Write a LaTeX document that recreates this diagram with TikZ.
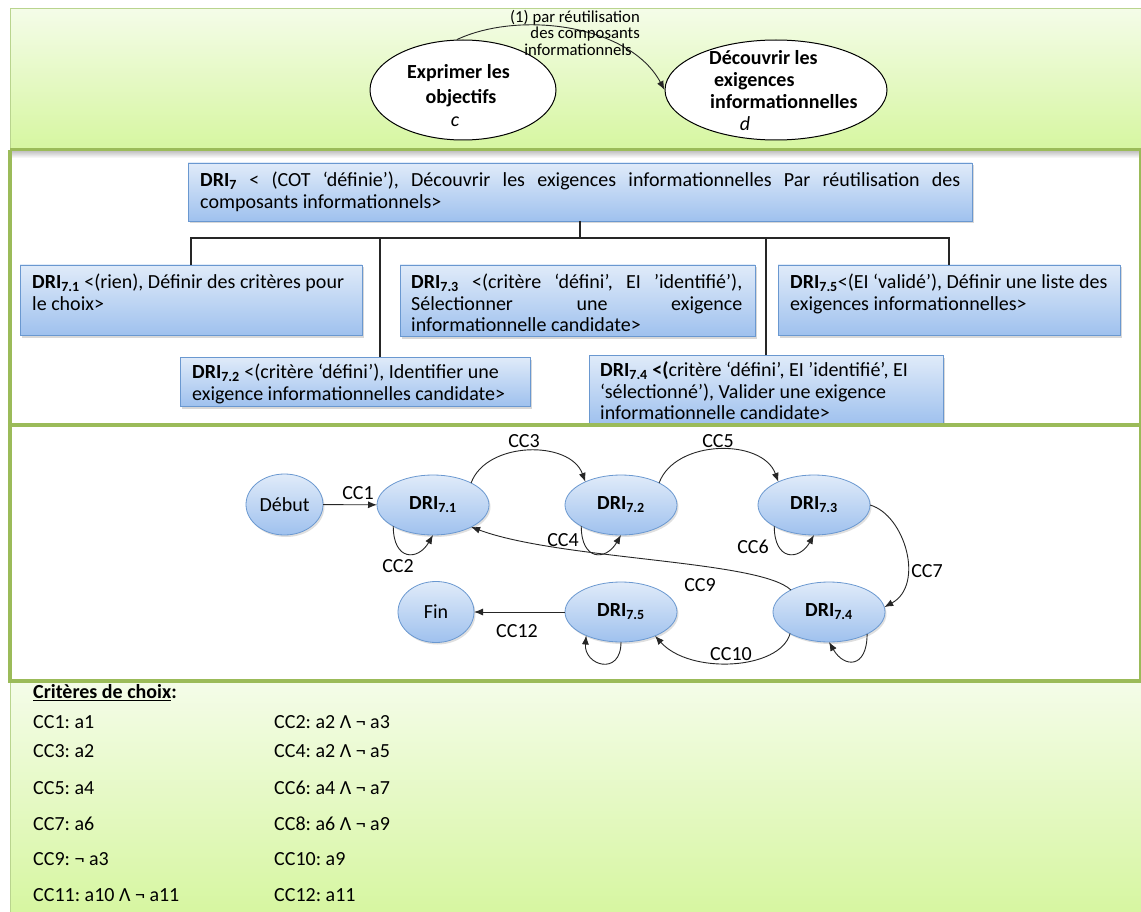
\documentclass[tikz,border=0pt]{standalone}
\usepackage{fontspec}
\setmainfont{Carlito}
\frenchspacing
\usetikzlibrary{shapes.geometric,arrows.meta,shadows}
\definecolor{grn}{HTML}{9BBB59}
\definecolor{grnlight}{HTML}{B9D48E}
\definecolor{grntop}{HTML}{F4FCE8}
\definecolor{grnbot}{HTML}{D6F6A0}
\definecolor{bxtop}{HTML}{E0EBF9}
\definecolor{bxbot}{HTML}{9FC1EE}
\definecolor{bxline}{HTML}{6A98D0}
\definecolor{edgec}{HTML}{262626}
\begin{document}
\begin{tikzpicture}[x=1pt,y=1pt,
  bx/.style={draw=bxline, line width=0.8pt, top color=bxtop, bottom color=bxbot,
    anchor=north west, inner sep=0pt, outer sep=0pt,
    drop shadow={shadow xshift=2pt, shadow yshift=-2.5pt, opacity=0.3}},
  bxtext/.style={anchor=north west, inner sep=0pt, align=left,
    font=\fontsize{20}{21.5}\selectfont},
  st/.style={ellipse, draw=bxline, line width=0.8pt, top color=bxtop, bottom color=bxbot,
    minimum width=112pt, minimum height=60pt, inner sep=0pt, outer sep=0pt,
    font=\fontsize{20}{24}\selectfont\bfseries,
    drop shadow={shadow xshift=1.5pt, shadow yshift=-2pt, opacity=0.25}},
  lbl/.style={font=\fontsize{20}{24}\selectfont, inner sep=0pt},
  crit/.style={anchor=base west, font=\fontsize{20}{24}\selectfont, inner sep=0pt},
  arr/.style={draw=edgec, line width=0.9pt, -{Latex[length=9pt,width=7pt]}},
  tree/.style={draw=edgec, line width=1.1pt},
  big/.style={ellipse, draw=black, line width=1pt, fill=white, minimum height=100pt, inner sep=0pt},
  bigtxt/.style={font=\fontsize{20}{24}\selectfont\bfseries, inner sep=0pt},
  toplbl/.style={anchor=base east, font=\fontsize{16.7}{16.5}\selectfont, inner sep=0pt}]
\useasboundingbox (0,0) rectangle (1141,-912);
\fill[white] (0,0) rectangle (1141,-912);
\clip (0,0) rectangle (1141,-912);

% ---------- panels ----------
\shade[top color=grntop, bottom color=grnbot] (10,-9) rectangle (1150,-150);
\draw[grnlight, line width=1pt] (1150,-9) -- (10,-9) -- (10,-150);
\shade[top color=black!22, bottom color=white] (12,-151.5) rectangle (1141,-158);
\shade[top color=grntop, bottom color=grnbot] (10,-683) rectangle (1150,-915);
\draw[grnlight, line width=1pt] (10,-683) -- (10,-915);

% ---------- top: process ----------
\node[big, minimum width=186pt] (c) at (463,-90) {};
\node[big, minimum width=222pt] (d) at (776,-90) {};
\node[bigtxt, anchor=base] (c1) at (458.5,-78.5) {Exprimer les};
\node[bigtxt, anchor=base] (c2) at (461,-103.5) {objectifs};
\node[bigtxt, anchor=base, font=\fontsize{20}{24}\selectfont\itshape] (c3) at (455,-127) {c};
\node[bigtxt, anchor=base west] (d1) at (709,-64.5) {Découvrir les};
\node[bigtxt, anchor=base west] (d2) at (714,-86.5) {exigences};
\node[bigtxt, anchor=base west] (d3) at (710,-108.5) {informationnelles};
\node[bigtxt, anchor=base, font=\fontsize{20}{24}\selectfont\itshape] (d4) at (745,-131) {d};
\draw[arr] (c.97) .. controls (520,-10) and (630,-25) .. (d.west);
\node[toplbl] (p1) at (640,-22.5) {(1) par réutilisation};
\node[toplbl] (p2) at (640,-39) {des composants};
\node[toplbl] (p3) at (632,-56) {informationnels};

% ---------- middle: decomposition ----------
\node[bx, minimum width=784pt, minimum height=58pt] (b7) at (188,-163) {};
\node[bx, minimum width=342pt, minimum height=70pt] (b71) at (20,-265) {};
\node[bx, minimum width=355pt, minimum height=71pt] (b73) at (400,-265) {};
\node[bx, minimum width=342pt, minimum height=70pt] (b75) at (778,-265) {};
\node[bx, minimum width=350pt, minimum height=49pt] (b72) at (180,-357) {};
\node[bx, minimum width=354pt, minimum height=69pt] (b74) at (589,-355) {};

\coordinate (bus) at ([yshift=-17pt]b7.south);
\draw[tree] (b7.south) -- (bus);
\draw[tree] (b71.north) |- (bus) -| (b75.north);
\draw[tree] (bus) -| (b74.north);
\draw[tree] (bus) -| ([xshift=25pt]b72.north);

\node[bxtext] (t7) at (200,-169.5) {\makebox[760pt][s]{\rule{0pt}{17pt}\textbf{DRI\textsubscript{7}} < (COT ‘définie’), Découvrir les exigences informationnelles Par réutilisation des}\\composants informationnels>};
\node[bxtext] (t71) at (32,-271.5) {\rule{0pt}{17pt}\textbf{DRI\textsubscript{7.1}} <(rien), Définir des critères pour\\le choix>};
\node[bxtext] (t73) at (411,-271.5) {\makebox[331pt][s]{\rule{0pt}{17pt}\textbf{DRI\textsubscript{7.3}} <(critère ‘défini’, EI ’identifié’),}\\\makebox[331pt][s]{Sélectionner une exigence}\\informationnelle candidate>};
\node[bxtext] (t75) at (790,-271.5) {\rule{0pt}{17pt}\textbf{DRI\textsubscript{7.5}}<(EI ‘validé’), Définir une liste des\\exigences informationnelles>};
\node[bxtext] (t72) at (192,-361.5) {\rule{0pt}{17pt}\textbf{DRI\textsubscript{7.2}} <(critère ‘défini’), Identifier une\\exigence informationnelles candidate>};
\node[bxtext] (t74) at (600,-359.5) {\rule{0pt}{17pt}\textbf{DRI\textsubscript{7.4} <(}critère ‘défini’, EI ’identifié’, EI\\‘sélectionné’), Valider une exigence\\informationnelle candidate>};

% ---------- state diagram ----------
\node[st, minimum width=77pt, minimum height=61pt, font=\fontsize{20}{24}\selectfont] (deb) at (284.5,-504.5) {Début};
\node[st] (s71) at (433,-505) {DRI\textsubscript{7.1}};
\node[st] (s72) at (621,-505) {DRI\textsubscript{7.2}};
\node[st] (s73) at (814,-505) {DRI\textsubscript{7.3}};
\node[st] (s74) at (829,-612) {DRI\textsubscript{7.4}};
\node[st] (s75) at (621,-612) {DRI\textsubscript{7.5}};
\node[st, minimum width=76pt, minimum height=61pt, font=\fontsize{20}{24}\selectfont] (fin) at (436,-612) {Fin};

\draw[arr] (deb) -- (s71);
\draw[arr] (s71.30) to[out=70,in=110] (s72.147);
\draw[arr] (s72.30) to[out=70,in=110] (s73.147);
\draw[arr] (s71.208) .. controls +(270:35) and +(240:30) .. (s71.270);
\draw[arr] (s72.208) .. controls +(270:35) and +(240:30) .. (s72.270);
\draw[arr] (s73.208) .. controls +(270:35) and +(240:30) .. (s73.270);
\draw[arr] (s73.0) .. controls (905,-515) and (925,-585) .. (s74.5);
\draw[arr] (s74.150) .. controls (760,-560) and (560,-560) .. (s71.-30);
\draw[arr] (s74.-30) .. controls +(270:35) and +(300:30) .. (s74.270);
\draw[arr] (s74.209) .. controls (780,-670) and (690,-675) .. (s75.-35);
\draw[arr] (s75.270) .. controls +(270:35) and +(265:30) .. (s75.214);
\draw[arr] (s75) -- (fin);

\node[lbl] (l1) at (358,-493) {CC1};
\node[lbl] (l2) at (398,-566) {CC2};
\node[lbl] (l3) at (524,-441) {CC3};
\node[lbl] (l4) at (563,-540) {CC4};
\node[lbl] (l5) at (718,-441) {CC5};
\node[lbl] (l6) at (753,-547) {CC6};
\node[lbl] (l7) at (927,-571) {CC7};
\node[lbl] (l9) at (700,-585) {CC9};
\node[lbl] (l10) at (731,-654) {CC10};
\node[lbl] (l12) at (517,-631) {CC12};

% ---------- section lines ----------
\draw[grn, line width=3pt] (10,-150) -- (1150,-150);
\draw[grn, line width=3.5pt] (10,-150) -- (10,-683);
\draw[grn, line width=1.5pt] (1140,-150) -- (1140,-683);
\draw[grn, line width=4pt] (10,-425) -- (1150,-425);
\draw[grn, line width=4pt] (10,-681) -- (1150,-681);

% ---------- criteria ----------
\node[crit] (ch) at (33,-698.5) {\textbf{\underline{Critères de choix}:}};
\node[crit] (cr1) at (33,-728.5) {CC1: a1};
\node[crit] (cr2) at (274,-728.5) {CC2: a2 Λ ¬ a3};
\node[crit] (cr3) at (33,-757.5) {CC3: a2};
\node[crit] (cr4) at (274,-757.5) {CC4: a2 Λ ¬ a5};
\node[crit] (cr5) at (33,-794.5) {CC5: a4};
\node[crit] (cr6) at (274,-794.5) {CC6: a4 Λ ¬ a7};
\node[crit] (cr7) at (33,-830.5) {CC7: a6};
\node[crit] (cr8) at (274,-830.5) {CC8: a6 Λ ¬ a9};
\node[crit] (cr9) at (33,-865.5) {CC9: ¬ a3};
\node[crit] (cr10) at (274,-865.5) {CC10: a9};
\node[crit] (cr11) at (33,-901.5) {CC11: a10 Λ ¬ a11};
\node[crit] (cr12) at (274,-901.5) {CC12: a11};
\end{tikzpicture}
\end{document}
